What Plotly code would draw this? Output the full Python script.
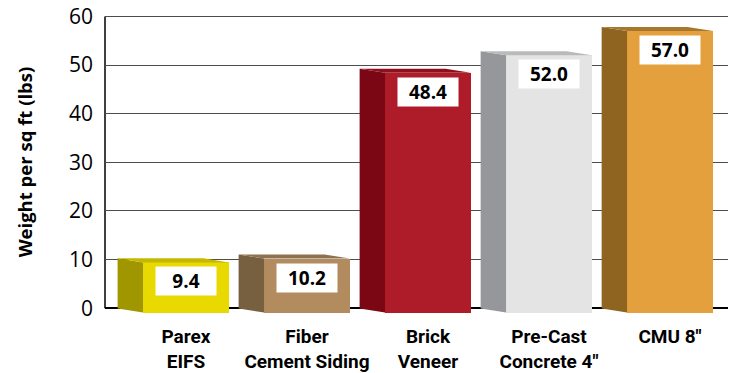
import plotly.graph_objects as go

# ---- data ----
categories = ["Parex<br>EIFS", "Fiber<br>Cement Siding", "Brick<br>Veneer",
              "Pre-Cast<br>Concrete 4\"", "CMU 8\""]
values = [9.4, 10.2, 48.4, 52.0, 57.0]
value_labels = ["9.4", "10.2", "48.4", "52.0", "57.0"]
y_ticks = [0, 10, 20, 30, 40, 50, 60]
y_title = "Weight per sq ft (lbs)"

# ---- style ----
front_colors = ["#E8D900", "#B28B5E", "#AE1C29", "#E4E4E4", "#E3A03C"]
side_colors = ["#A09600", "#77603F", "#7C0714", "#96979A", "#8E6420"]
top_colors = ["#C4B800", "#8E7250", "#8F101C", "#B9BABC", "#A7782C"]
BAR_W = 0.71      # front face width (x units)
DEPTH_X = 0.21    # 3D depth offset (x units)
DEPTH_Y = 0.85    # 3D depth offset (y units)
BOTTOM = -0.9     # front face bottom sits slightly below baseline

xs = list(range(len(values)))

fig = go.Figure()

# front faces
fig.add_trace(go.Bar(
    x=xs, y=[v - BOTTOM for v in values], base=BOTTOM, width=BAR_W,
    marker=dict(color=front_colors, line=dict(width=0)),
    hoverinfo="skip", showlegend=False,
))

# side and top faces (computed from data)
for i, v in enumerate(values):
    xl = xs[i] - BAR_W / 2
    xr = xs[i] + BAR_W / 2
    fig.add_trace(go.Scatter(
        x=[xl, xl, xl - DEPTH_X, xl - DEPTH_X, xl],
        y=[BOTTOM, v, v + DEPTH_Y, BOTTOM + DEPTH_Y, BOTTOM],
        mode="lines", line=dict(width=0), fill="toself",
        fillcolor=side_colors[i], hoverinfo="skip", showlegend=False,
    ))
    fig.add_trace(go.Scatter(
        x=[xl, xr, xr - DEPTH_X, xl - DEPTH_X, xl],
        y=[v, v, v + DEPTH_Y, v + DEPTH_Y, v],
        mode="lines", line=dict(width=0), fill="toself",
        fillcolor=top_colors[i], hoverinfo="skip", showlegend=False,
    ))

# value labels
for i, v in enumerate(values):
    fig.add_annotation(
        x=xs[i], y=v, xref="x", yref="y", yanchor="top", yshift=-4,
        text=value_labels[i], showarrow=False,
        font=dict(family="Open Sans", size=19, color="black", weight="bold"),
        bgcolor="white", width=58, height=26, borderpad=1,
    )

# y axis title
fig.add_annotation(
    x=-0.13, xref="paper", y=30, yref="y", text=y_title, textangle=-90,
    showarrow=False, xanchor="center", yanchor="middle",
    font=dict(family="Open Sans", size=18.5, color="black", weight="bold"),
)

# left axis line
fig.add_shape(type="line", xref="paper", x0=0, x1=0, yref="y", y0=0, y1=60,
              line=dict(color="black", width=1.5), layer="below")

fig.update_layout(
    width=734, height=373,
    margin=dict(l=105, r=6, t=15, b=59, autoexpand=False),
    paper_bgcolor="white", plot_bgcolor="white",
    bargap=0,
    xaxis=dict(
        range=[-0.669, 4.479], tickvals=xs, ticktext=categories,
        showgrid=False, zeroline=False, showline=False, ticks="",
        tickfont=dict(family="Roboto", size=19, color="black", weight="bold"),
        ticklabelstandoff=9, automargin=False,
    ),
    yaxis=dict(
        range=[-1.2, 60.3], tickvals=y_ticks,
        showgrid=True, gridcolor="#4d4d4d", gridwidth=1.3,
        zeroline=True, zerolinecolor="black", zerolinewidth=1.5,
        showline=False, ticks="",
        tickfont=dict(family="Open Sans", size=21, color="black"),
        ticklabelstandoff=11, automargin=False,
    ),
)

fig.write_html("out.html")
